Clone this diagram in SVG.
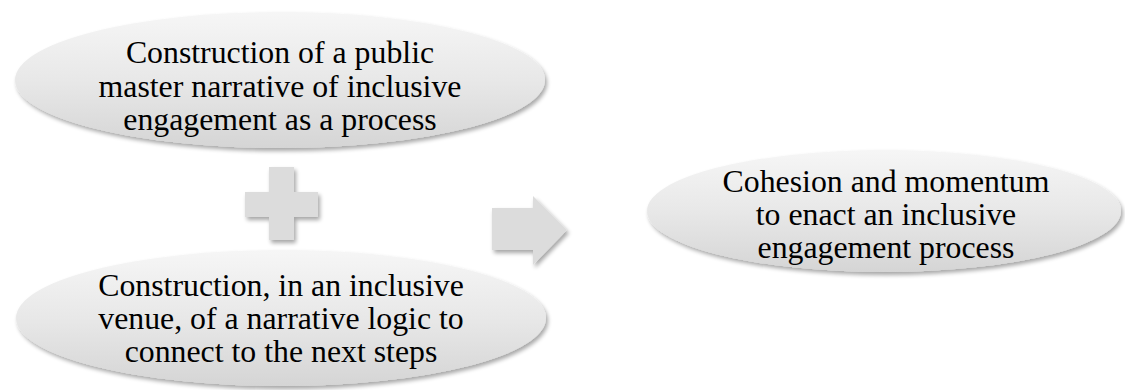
<svg xmlns="http://www.w3.org/2000/svg" width="1125" height="390" viewBox="0 0 1125 390">
  <defs>
    <linearGradient id="ovalFill" x1="0" y1="0" x2="0" y2="1">
      <stop offset="0" stop-color="#f6f6f6"/>
      <stop offset="0.5" stop-color="#e8e8e8"/>
      <stop offset="1" stop-color="#d5d5d5"/>
    </linearGradient>
    <filter id="softShadow" x="-10%" y="-10%" width="120%" height="130%">
      <feGaussianBlur in="SourceAlpha" stdDeviation="2.2"/>
      <feOffset dx="1.5" dy="3" result="off"/>
      <feComponentTransfer><feFuncA type="linear" slope="0.35"/></feComponentTransfer>
      <feMerge><feMergeNode/><feMergeNode in="SourceGraphic"/></feMerge>
    </filter>
  </defs>
  <style>
    .oval { fill: url(#ovalFill); filter: url(#softShadow); }
    .sym { fill: #dcdcdc; filter: url(#softShadow); }
    .label { font-family: "Liberation Serif", "Times New Roman", serif; font-size: 31.8px; fill: #000; text-anchor: middle; }
  </style>

  <g id="node-master-narrative">
    <ellipse class="oval" cx="280" cy="80" rx="265" ry="68"/>
    <text class="label" x="280" y="63">Construction of a public</text>
    <text class="label" x="280" y="97">master narrative of inclusive</text>
    <text class="label" x="280" y="130">engagement as a process</text>
  </g>

  <g id="node-narrative-logic">
    <ellipse class="oval" cx="281" cy="318" rx="265" ry="68"/>
    <text class="label" x="281" y="296">Construction, in an inclusive</text>
    <text class="label" x="281" y="329">venue, of a narrative logic to</text>
    <text class="label" x="281" y="362">connect to the next steps</text>
  </g>

  <g id="node-cohesion">
    <ellipse class="oval" cx="884" cy="211" rx="237" ry="61"/>
    <text class="label" x="886" y="192">Cohesion and momentum</text>
    <text class="label" x="886" y="225">to enact an inclusive</text>
    <text class="label" x="886" y="258">engagement process</text>
  </g>

  <g id="connectors">
    <!-- plus sign joining the two construction steps -->
    <path class="sym" d="M269,167 H294 V192 H318 V217 H294 V240 H269 V217 H245 V192 H269 Z"/>
    <!-- block arrow leading to the outcome -->
    <path class="sym" d="M492,208 H533 V196 L567,230 L533,265 V250 H492 Z"/>
  </g>
</svg>
